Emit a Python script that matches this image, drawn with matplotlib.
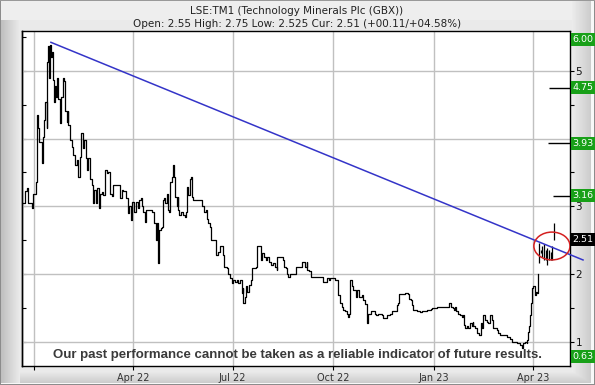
import numpy as np
import pandas as pd
import matplotlib
matplotlib.use('Agg')
import matplotlib.pyplot as plt
import matplotlib.dates as mdates
import matplotlib.transforms as mtrans
from matplotlib.patches import Ellipse

# ---------------- data (days relative to base date) ----------------
base = pd.Timestamp('2022-04-01')

price_days = [
    -100.2, -98.6, -96.5, -95.6, -92.5, -91.0, -88.8, -87.9, -86.5, -85.8, -83.4, -82.4, -81.3, -80.3,
    -78.8, -78.2, -77.3, -76.4, -75.5, -74.9, -73.9, -73.0, -72.4, -71.2, -70.3, -69.1, -68.2, -66.6,
    -65.7, -64.2, -63.0, -62.1, -60.5, -59.6, -59.1, -57.5, -56.0, -54.5, -53.0, -51.4, -49.9, -48.4,
    -47.5, -45.9, -44.5, -43.2, -42.3, -40.8, -39.3, -37.7, -36.8, -35.6, -33.8, -32.6, -31.3, -30.1,
    -28.6, -27.1, -25.6, -24.0, -22.6, -21.0, -19.4, -18.0, -13.4, -11.9, -10.3, -8.9, -6.4, -4.3,
    -3.7, -1.8, -1.2, 0.3, 1.2, 2.5, 4.3, 5.5, 7.0, 7.9, 9.4, 11.0, 11.6, 17.1, 19.4, 20.7, 21.6, 22.6,
    23.1, 24.0, 25.3, 26.2, 27.1, 28.6, 29.5, 30.8, 31.7, 32.9, 33.8, 35.3, 36.2, 37.2, 38.3, 39.9,
    40.8, 41.4, 42.3, 43.6, 45.9, 47.5, 48.4, 49.0, 50.5, 52.0, 53.0, 53.6, 55.1, 63.3, 65.1, 66.4,
    67.3, 68.7, 70.3, 71.2, 75.8, 77.9, 79.4, 82.4, 83.4, 85.5, 87.0, 88.6, 90.1,
    91.6, 93.1, 94.7, 96.1, 97.7, 99.2, 100.1, 100.7, 101.9, 103.2, 104.4, 105.9, 107.5, 108.4, 112.3,
    113.5, 116.6, 118.1, 119.6, 121.4, 122.6, 124.4, 125.7, 127.5, 129.6, 131.2, 131.7, 136.6, 137.9,
    139.7, 140.9, 141.8, 143.3, 148.8, 154.0, 157.0, 158.6, 159.1, 160.9, 162.5, 173.2, 177.4, 179.2,
    179.9, 184.4, 187.4,
    189.0, 190.5, 192.0, 193.6, 195.1, 196.0, 197.2, 198.1, 199.7, 201.1, 203.3, 204.2, 206.3, 208.8,
    210.3, 211.8, 213.4, 214.8, 217.3, 220.9, 221.6, 223.4, 227.1, 228.5, 231.6, 234.6, 236.2, 240.8,
    242.2, 243.1, 248.3, 250.8, 252.0, 253.8, 255.0, 255.9, 259.0, 262.0, 264.1, 268.1, 272.1, 273.3,
    277.3, 280.3,
    288.8, 290.1, 291.9, 293.1, 294.0, 294.9, 297.0, 298.6, 300.1, 301.6, 302.2, 303.1, 304.7, 306.1,
    307.7, 309.2, 310.1, 310.7, 312.2, 313.8, 316.2, 317.4, 318.4, 319.8, 321.4, 322.9, 324.4, 325.9,
    327.5, 329.0, 332.1, 333.5, 335.1, 341.2, 344.2, 345.8, 350.3, 353.3, 354.9, 356.3, 357.9, 359.4,
    360.0, 360.9, 361.8, 362.5, 363.4, 364.3, 365.5, 367.0, 367.9, 368.8, 369.5, 370.0,
]
price_vals = [
    3.05, 3.22, 3.27, 3.05, 2.97, 3.19, 3.36, 4.35, 4.15, 3.95, 3.64, 4.03, 4.27, 4.54,
    4.15, 5.13, 5.36, 4.90, 5.38, 5.21, 5.28, 4.86, 4.54, 4.77, 4.62, 4.89, 4.59, 4.23,
    4.62, 4.89, 4.85, 4.40, 4.25, 4.40, 4.20, 3.98, 3.88, 3.76, 3.61, 3.68, 3.44, 3.73,
    4.08, 3.86, 3.98, 3.71, 3.54, 3.71, 3.40, 3.32, 3.05, 3.24, 3.05, 3.27, 2.97, 3.19,
    3.21, 3.17, 3.54, 3.49, 3.50, 3.19, 3.15, 3.32, 3.31, 3.12, 3.24, 3.22, 3.12, 2.90,
    3.00, 2.80, 3.07, 3.07, 2.92, 3.07, 2.97, 3.09, 3.12, 3.00, 2.92, 2.77, 2.95, 2.92, 2.75, 2.50, 2.75, 2.50,
    2.16, 2.65, 2.68, 2.70, 3.09, 3.12, 3.05, 3.19, 2.95, 2.92, 3.36, 3.44, 3.61, 3.44, 3.14, 3.00,
    3.14, 2.95, 2.87, 2.92, 2.87, 2.85, 2.92, 3.29, 3.17, 3.41, 3.44, 3.14, 3.10, 3.00, 2.92, 2.95,
    2.82, 2.75, 2.70, 2.50, 2.28, 2.33, 2.41, 2.28, 2.11, 2.09, 2.01, 1.94, 1.87,
    1.91, 1.89, 1.91, 1.87, 1.91, 1.72, 1.79, 1.57, 1.67, 1.82, 1.74, 1.84, 1.91, 2.09, 2.11,
    2.41, 2.21, 2.31, 2.26, 2.21, 2.26, 2.18, 2.14, 2.16, 2.11, 2.06, 2.26, 2.21, 2.11,
    2.09, 2.01, 1.96, 2.01, 2.10, 2.18, 2.11, 2.18, 2.06, 2.04, 1.96, 1.89, 1.94, 1.91,
    1.95, 1.91, 1.69,
    1.57, 1.52, 1.47, 1.45, 1.42, 1.37, 1.42, 1.91, 1.82, 1.77, 1.67, 1.77, 1.67, 1.69,
    1.62, 1.56, 1.28, 1.42, 1.45, 1.42, 1.40, 1.42, 1.40, 1.35, 1.40, 1.42, 1.45, 1.55,
    1.57, 1.71, 1.72, 1.71, 1.64, 1.62, 1.55, 1.47, 1.45, 1.44, 1.45, 1.47, 1.48, 1.50,
    1.51, 1.52,
    1.57, 1.52, 1.50, 1.47, 1.52, 1.45, 1.42, 1.40, 1.37, 1.40, 1.25, 1.20, 1.23, 1.20,
    1.28, 1.23, 1.30, 1.23, 1.20, 1.13, 1.10, 1.28, 1.20, 1.40, 1.32, 1.30, 1.28, 1.40,
    1.32, 1.20, 1.18, 1.13, 1.10, 1.08, 1.05, 1.00, 0.98, 0.96, 0.91, 0.98, 1.00, 0.98,
    1.03, 1.15, 1.23, 1.40, 1.57, 1.79, 1.82, 1.69, 1.74, 1.72, 1.82, 2.01,
]

# last sessions drawn as high-low bars
bar_days = [370.7, 372.5, 373.7, 375.2, 376.8, 378.3, 380.1, 381.6, 382.8, 384.6]
bar_high = [2.46, 2.36, 2.41, 2.44, 2.36, 2.39, 2.36, 2.33, 2.41, 2.75]
bar_low = [2.16, 2.31, 2.26, 2.21, 2.21, 2.14, 2.21, 2.21, 2.21, 2.51]

# trend line
trend_days = [-74.9, 410.9]
trend_vals = [5.42, 2.21]

# right-hand level labels
level_vals = [6.00, 4.75, 3.93, 3.16, 2.51, 0.63]
level_text = ['6.00', '4.75', '3.93', '3.16', '2.51', '0.63']
level_face = ['#18a018', '#18a018', '#18a018', '#18a018', '#000000', '#18a018']
# short target markers
marker_vals = [4.75, 3.93, 3.16]
marker_start = [379.8, 378.9, 383.5]

# highlight ellipse
ring_day, ring_val, ring_w_days, ring_h = 382.5, 2.416, 33.0, 0.41

x_lim_days = [-101.3, 399.0]
y_lim = [0.646, 5.587]

tick_dates = ['2022-01-01', '2022-04-01', '2022-07-01', '2022-10-01', '2023-01-01', '2023-04-01']
tick_labels = ['', 'Apr 22', 'Jul 22', 'Oct 22', 'Jan 23', 'Apr 23']
ytick_major = [1, 2, 3, 4, 5]
ytick_labels = ['1', '2', '3', '', '5']

title1 = 'LSE:TM1 (Technology Minerals Plc (GBX))'
title2 = 'Open: 2.55 High: 2.75 Low: 2.525 Cur: 2.51 (+00.11/+04.58%)'
disclaimer = 'Our past performance cannot be taken as a reliable indicator of future results.'


def to_dates(days):
    return base + pd.to_timedelta(np.asarray(days, dtype=float), unit='D')


W, H = 595, 385
fig = plt.figure(figsize=(W / 100, H / 100), dpi=100)
fig.patch.set_facecolor('#e9e9e9')

# ---- bevelled frame background ----
bg = fig.add_axes([0, 0, 1, 1], zorder=-10)
g = np.full((H, W), 0.915)
xs = np.arange(W)
ys = np.arange(H)
left = xs < 20
g[:, left] = np.linspace(0.74, 0.915, left.sum())[None, :]
g[:20, :] = np.maximum(g[:20, :], 0.93)
rb = (xs >= 572) & (xs < 591)
g[:, rb] = np.linspace(0.92, 0.80, rb.sum())[None, :]
g[:, 591:594] = 0.97
bot = (ys >= 370) & (ys < 383)
g[bot, 20:591] = np.minimum(g[bot, 20:591], np.linspace(0.93, 0.80, bot.sum())[:, None])
g[383:, :] = 0.97
g[:, :1] = 0.55
g[:, -1:] = 0.55
g[:1, :] = 0.6
g[-1:, :] = 0.55
bg.imshow(g, cmap='gray', vmin=0, vmax=1, aspect='auto', interpolation='nearest')
bg.axis('off')

ax = fig.add_axes([22 / W, 1 - 366 / H, 548 / W, 335 / H])
ax.set_facecolor('white')

ax.set_xlim(to_dates(x_lim_days))
ax.set_ylim(y_lim)

# grid
for d in pd.to_datetime(tick_dates):
    ax.axvline(d, color='#c0c0c0', lw=1.0, zorder=1)
for v in ytick_major:
    ax.axhline(v, color='#c0c0c0', lw=1.0, zorder=1)

# price
ax.plot(to_dates(price_days), price_vals, color='black', lw=0.9,
        drawstyle='steps-post', zorder=3)
ax.vlines(to_dates(bar_days), bar_low, bar_high, color='black', lw=0.9, zorder=3)

# trend line (runs into right margin)
ax.plot(to_dates(trend_days), trend_vals, color='#3434c8', lw=1.1, zorder=4, clip_on=False)

# ring
ring = Ellipse((mdates.date2num(to_dates([ring_day])[0]), ring_val), ring_w_days, ring_h,
               fill=False, edgecolor='#d42020', lw=1.1, zorder=5)
ax.add_patch(ring)

# target marker lines
for v, s in zip(marker_vals, marker_start):
    ax.plot([to_dates([s])[0], to_dates([x_lim_days[1]])[0]], [v, v], color='black', lw=1.0,
            zorder=4, solid_capstyle='butt')

# axes styling
for sp in ax.spines.values():
    sp.set_color('black')
    sp.set_linewidth(1.0)

ax.set_xticks(pd.to_datetime(tick_dates))
ax.set_xticklabels(tick_labels)
ax.tick_params(axis='x', direction='out', length=3, width=0.8, pad=2,
               labelsize=7, labelcolor='#333333')

ax.yaxis.tick_right()
ax.set_yticks(ytick_major)
ax.set_yticklabels(ytick_labels)
ax.set_yticks(np.arange(1.5, 5.6, 1.0), minor=True)
ax.tick_params(axis='y', which='both', direction='out', length=3, width=0.8, pad=1,
               labelsize=7.5, labelcolor='#111111')

sec = ax.secondary_yaxis('left')
sec.set_yticks(np.arange(1.0, 5.6, 0.5))
sec.set_yticklabels([])
sec.tick_params(direction='in', length=3, width=0.8)
sec.spines['left'].set_linewidth(1.0)

# level labels on right
trans = mtrans.blended_transform_factory(ax.transAxes, ax.transData)
margin = 0.12
for v, t, fc in zip(level_vals, level_text, level_face):
    yy = min(max(v, y_lim[0] + 0.135), y_lim[1] - margin)
    ax.text(1.0045, yy, t, transform=trans, ha='left', va='center', fontsize=6.8,
            color='white', zorder=10, clip_on=False,
            bbox=dict(boxstyle='square,pad=0.2', fc=fc, ec='none'))

# titles
fig.text(297 / W, 1 - 11 / H, title1, ha='center', va='center', fontsize=7.5, color='#222222')
fig.text(297 / W, 1 - 24 / H, title2, ha='center', va='center', fontsize=7.5, color='#222222')

# disclaimer
ax.text(0.502, 0.033, disclaimer, transform=ax.transAxes, ha='center', va='center',
        fontsize=9.5, fontweight='bold', color='#3a3a3a', zorder=8,
        family=['Liberation Sans Narrow', 'Liberation Sans', 'DejaVu Sans'])

fig.savefig('out.png', dpi=100, facecolor=fig.get_facecolor())
